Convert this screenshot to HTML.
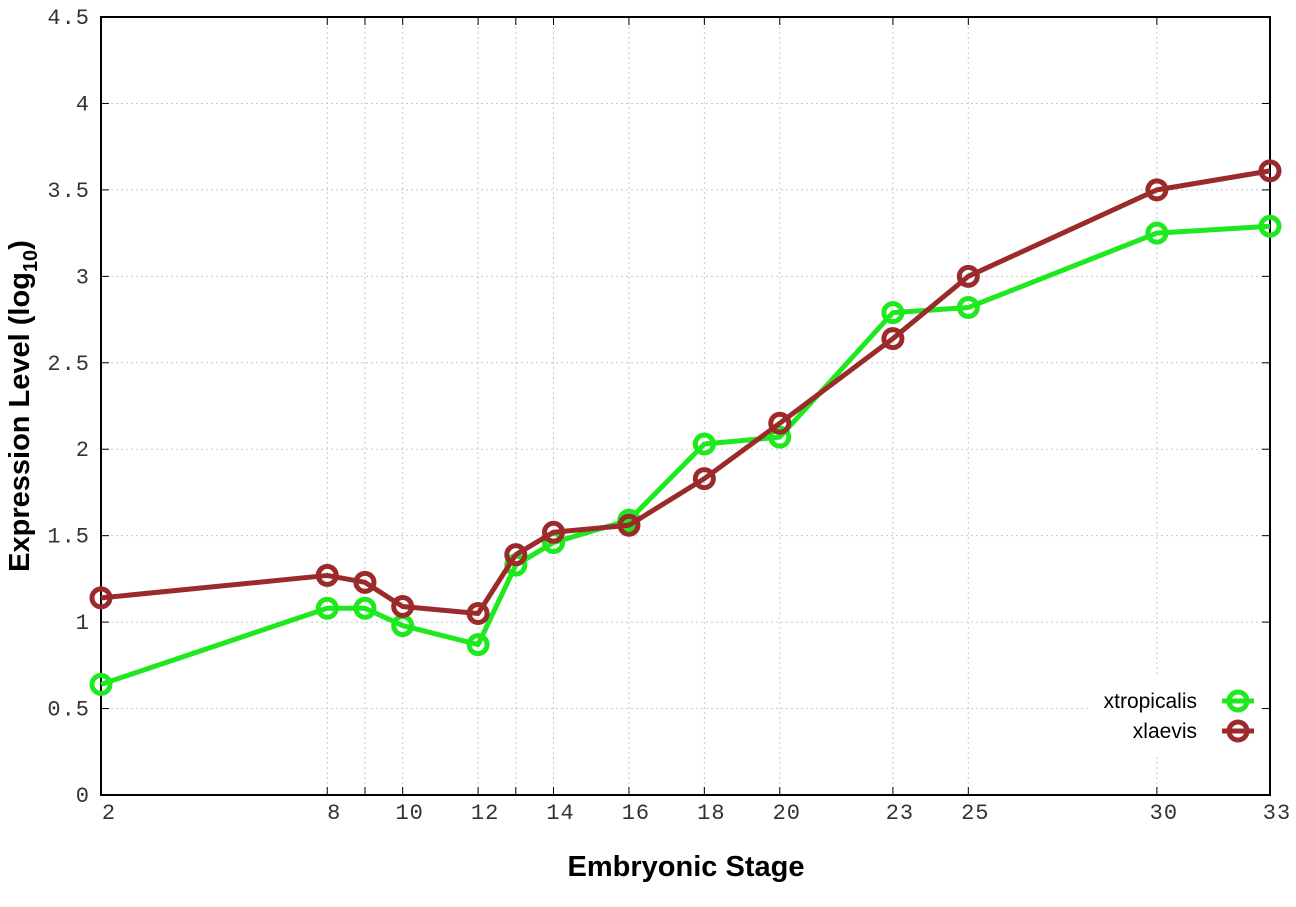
<!DOCTYPE html>
<html><head><meta charset="utf-8"><style>
html,body{margin:0;padding:0;background:#fff;}
svg{display:block;}
</style></head><body>
<svg id="s" width="1296" height="907" xmlns="http://www.w3.org/2000/svg">
<rect width="1296" height="907" fill="#fff"/>
<g id="grid" stroke="#c8c8c8" stroke-width="1" stroke-dasharray="2,3"></g>
<rect x="1090" y="675" width="170" height="80" fill="#fff"/>
<g id="ticks" stroke="#000" stroke-width="1"></g>
<rect x="101" y="17" width="1169" height="778" fill="none" stroke="#000" stroke-width="2"/>
<g id="labels" font-family="Liberation Mono, monospace" font-size="22" fill="#333" letter-spacing="1"></g>
<g id="series"></g>
<text x="686" y="876" text-anchor="middle" font-family="Liberation Sans, sans-serif" font-size="29" font-weight="bold">Embryonic Stage</text>
<text transform="translate(29,406) rotate(-90)" text-anchor="middle" font-family="Liberation Sans, sans-serif" font-size="29" font-weight="bold">Expression Level (log<tspan font-size="20" dy="8">10</tspan><tspan dy="-8">)</tspan></text>
<text x="1197" y="708" text-anchor="end" font-family="Liberation Sans, sans-serif" font-size="21">xtropicalis</text>
<text x="1197" y="738" text-anchor="end" font-family="Liberation Sans, sans-serif" font-size="21">xlaevis</text>
<line x1="1222" y1="701" x2="1254" y2="701" stroke="#1ee81e" stroke-width="5"/>
<circle cx="1238" cy="701" r="9" fill="none" stroke="#1ee81e" stroke-width="5"/>
<line x1="1222" y1="731" x2="1254" y2="731" stroke="#9b2a2a" stroke-width="5"/>
<circle cx="1238" cy="731" r="9" fill="none" stroke="#9b2a2a" stroke-width="5"/>
</svg>
<script>
var NS="http://www.w3.org/2000/svg";
function X(s){return 101+(s-2)*1169/31;}
function Y(v){return 795-v*778/4.5;}
function el(t,a,p,txt){var e=document.createElementNS(NS,t);for(var k in a)e.setAttribute(k,a[k]);if(txt!==undefined)e.textContent=txt;document.getElementById(p).appendChild(e);}
var xs=[2,8,9,10,12,13,14,16,18,20,23,25,30,33];
var xl=[2,8,10,12,14,16,18,20,23,25,30,33];
xs.forEach(function(s){var x=X(s);
 if(s>2&&s<33)el("line",{x1:x,y1:17,x2:x,y2:795},"grid");
 el("line",{x1:x,y1:795,x2:x,y2:787},"ticks");el("line",{x1:x,y1:17,x2:x,y2:25},"ticks");});
xl.forEach(function(s){el("text",{x:X(s)+(s==2?8:7),y:819,"text-anchor":"middle"},"labels",String(s));});
for(var i=0;i<=9;i++){var v=i*0.5,y=Y(v);
 if(i>0&&i<9)el("line",{x1:101,y1:y,x2:1270,y2:y},"grid");
 el("line",{x1:101,y1:y,x2:109,y2:y},"ticks");el("line",{x1:1270,y1:y,x2:1262,y2:y},"ticks");
 el("text",{x:90,y:y+7,"text-anchor":"end"},"labels",String(v));}
var g=[0.64,1.08,1.08,0.98,0.87,1.33,1.46,1.59,2.03,2.07,2.79,2.82,3.25,3.29];
var r=[1.14,1.27,1.23,1.09,1.05,1.39,1.52,1.56,1.83,2.15,2.64,3.00,3.50,3.61];
function draw(d,c){var p=xs.map(function(s,i){return X(s)+","+Y(d[i]);}).join(" ");
 el("polyline",{points:p,fill:"none",stroke:c,"stroke-width":5,"stroke-linejoin":"round"},"series");
 xs.forEach(function(s,i){el("circle",{cx:X(s),cy:Y(d[i]),r:9,fill:"none",stroke:c,"stroke-width":5},"series");});}
draw(g,"#1ee81e");draw(r,"#9b2a2a");
</script>
</body></html>
